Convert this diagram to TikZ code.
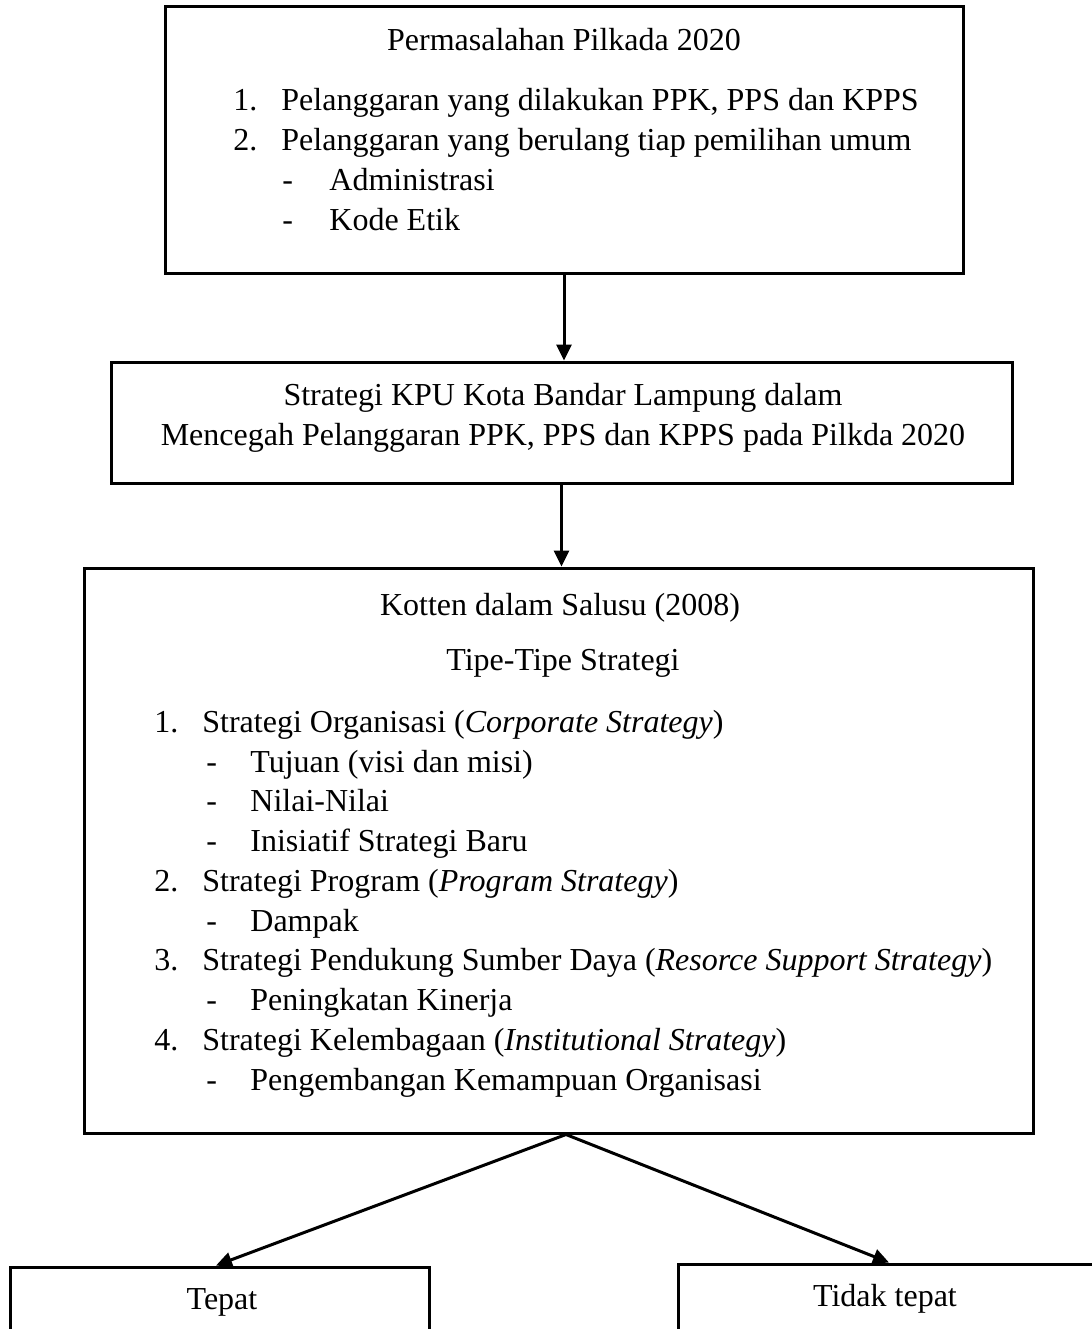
\documentclass[tikz,border=0pt]{standalone}
\usepackage{fontspec}
\setmainfont{Liberation Serif}
\usetikzlibrary{arrows.meta,calc}
\begin{document}
\begin{tikzpicture}[x=0.5pt,y=-0.5pt,
  box/.style={draw,line width=1.5pt,rectangle,inner sep=0pt},
  txt/.style={inner sep=0pt,anchor=base west,font=\fontsize{16}{19}\selectfont},
  ctxt/.style={inner sep=0pt,anchor=base,font=\fontsize{16}{19}\selectfont},
  arr/.style={line width=1.5pt,-{Triangle[width=7.5pt,length=8pt]}}]
\useasboundingbox (0,0) rectangle (1092,1329);
\fill[white] (0,0) rectangle (1092,1329);

% boxes
\node[box,minimum width=399pt,minimum height=133.5pt] (top) at (564,139.5) {};
\node[box,minimum width=450.5pt,minimum height=60.5pt] (mid) at (561.5,422.5) {};
\node[box,minimum width=474.5pt,minimum height=282.5pt] (big) at (558.5,850.5) {};
\node[box,minimum width=209.5pt,minimum height=39pt] (left) at (219.5,1306) {};
\node[box,minimum width=211pt,minimum height=40.5pt] (right) at (889,1304.5) {};

% top box text
\node[ctxt] (t0) at (564,50) {Permasalahan Pilkada 2020};
\node[txt] (t1n) at (233,110) {1.};
\node[txt] (t1) at (281,110) {Pelanggaran yang dilakukan PPK, PPS dan KPPS};
\node[txt] (t2n) at (233,150) {2.};
\node[txt] (t2) at (281,150) {Pelanggaran yang berulang tiap pemilihan umum};
\node[txt] (t3n) at (282,190) {-};
\node[txt] (t3) at (329,190) {Administrasi};
\node[txt] (t4n) at (282,230) {-};
\node[txt] (t4) at (329,230) {Kode Etik};

% middle box text
\node[ctxt] (m1) at (563,405) {Strategi KPU Kota Bandar Lampung dalam};
\node[ctxt] (m2) at (563,445) {Mencegah Pelanggaran PPK, PPS dan KPPS pada Pilkda 2020};

% big box text
\node[ctxt] (b0) at (560,615) {Kotten dalam Salusu (2008)};
\node[ctxt] (b1) at (563,670) {Tipe-Tipe Strategi};
\node[txt] (b2n) at (154,732) {1.};
\node[txt] (b2) at (202,732) {Strategi Organisasi (\textit{Corporate Strategy})};
\node[txt] (b3n) at (206,772) {-};
\node[txt] (b3) at (250,772) {Tujuan (visi dan misi)};
\node[txt] (b4n) at (206,811) {-};
\node[txt] (b4) at (250,811) {Nilai-Nilai};
\node[txt] (b5n) at (206,851) {-};
\node[txt] (b5) at (250,851) {Inisiatif Strategi Baru};
\node[txt] (b6n) at (154,891) {2.};
\node[txt] (b6) at (202,891) {Strategi Program (\textit{Program Strategy})};
\node[txt] (b7n) at (206,931) {-};
\node[txt] (b7) at (250,931) {Dampak};
\node[txt] (b8n) at (154,970) {3.};
\node[txt] (b8) at (202,970) {Strategi Pendukung Sumber Daya (\textit{Resorce Support Strategy})};
\node[txt] (b9n) at (206,1010) {-};
\node[txt] (b9) at (250,1010) {Peningkatan Kinerja};
\node[txt] (b10n) at (154,1050) {4.};
\node[txt] (b10) at (202,1050) {Strategi Kelembagaan (\textit{Institutional Strategy})};
\node[txt] (b11n) at (206,1090) {-};
\node[txt] (b11) at (250,1090) {Pengembangan Kemampuan Organisasi};

% bottom texts
\node[ctxt] (l0) at (222,1309) {Tepat};
\node[ctxt] (r0) at (885,1306) {Tidak tepat};

% connectors
\draw[arr] (top.south) -- (top.south |- mid.north);
\draw[arr] (mid.south) -- (mid.south |- big.north);
\coordinate (apex) at ($(big.south)+(7.5,0)$);
\draw[arr] (apex) -- ($(left.north)+(-3.5,0)$);
\draw[arr] (apex) -- (right.north);
\end{tikzpicture}
\end{document}
